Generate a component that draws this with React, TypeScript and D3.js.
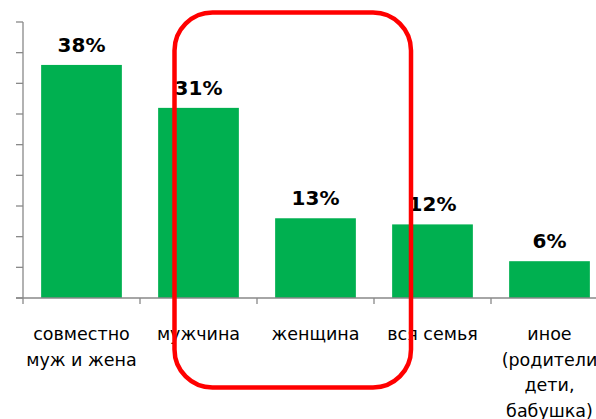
import React from 'react';
import * as d3 from 'd3';

// categories (wrapped as in the source chart) and shares, %
const categories = ['совместно муж и жена', 'мужчина', 'женщина', 'вся семья', 'иное (родители дети, бабушка)'];
const categoryLines = [
  ['совместно', 'муж и жена'],
  ['мужчина'],
  ['женщина'],
  ['вся семья'],
  ['иное', '(родители', 'дети,', 'бабушка)'],
];
const values = [38, 31, 13, 12, 6];
const yTicks = [0, 5, 10, 15, 20, 25, 30, 35, 40, 45];

const W = 596;
const H = 419;
const FONT = '"DejaVu Sans", Verdana, sans-serif';

export default function App() {
  const x = d3.scaleBand<string>()
    .domain(categories)
    .range([23, 608])
    .paddingInner(0.31)
    .paddingOuter(0.155);
  const y = d3.scaleLinear().domain([0, 45]).range([298, 22]);
  const step = x.step();
  const x0 = x.range()[0];

  return (
    <div style={{ position: 'fixed', left: 0, top: 0 }}>
      <svg width={W} height={H} style={{ display: 'block', background: '#fff', overflow: 'hidden' }}>
        {/* bars */}
        {categories.map((c, i) => (
          <rect key={c} x={x(c)} y={y(values[i])} width={x.bandwidth()} height={y(0) - y(values[i])} fill="#00B050" />
        ))}

        {/* value labels */}
        {categories.map((c, i) => (
          <text key={c} x={(x(c) as number) + x.bandwidth() / 2} y={y(values[i]) - 13}
            textAnchor="middle" fontFamily={FONT} fontWeight="bold" fontSize={20} fill="#000">
            {values[i]}%
          </text>
        ))}

        {/* y axis */}
        <g stroke="#898989" strokeWidth={1.3} fill="none">
          <line x1={23} x2={23} y1={y(45)} y2={y(0)} />
          {yTicks.map(t => (
            <line key={t} x1={16} x2={23} y1={y(t)} y2={y(t)} />
          ))}
          {/* x axis */}
          <line x1={16} x2={W} y1={y(0)} y2={y(0)} />
          {d3.range(categories.length + 1).map(i => (
            <line key={i} x1={x0 + i * step} x2={x0 + i * step} y1={y(0)} y2={y(0) + 6} />
          ))}
        </g>

        {/* category labels */}
        {categories.map((c, i) => (
          <text key={c} x={(x(c) as number) + x.bandwidth() / 2} y={340}
            textAnchor="middle" fontFamily={FONT} fontSize={17.5} fill="#000">
            {categoryLines[i].map((ln, j) => (
              <tspan key={j} x={(x(c) as number) + x.bandwidth() / 2} dy={j === 0 ? 0 : 25.5}>{ln}</tspan>
            ))}
          </text>
        ))}

        {/* highlight frame */}
        <rect x={174.5} y={12.5} width={236.5} height={375} rx={38} ry={38}
          fill="none" stroke="#FF0000" strokeWidth={4.5} />
      </svg>
    </div>
  );
}
